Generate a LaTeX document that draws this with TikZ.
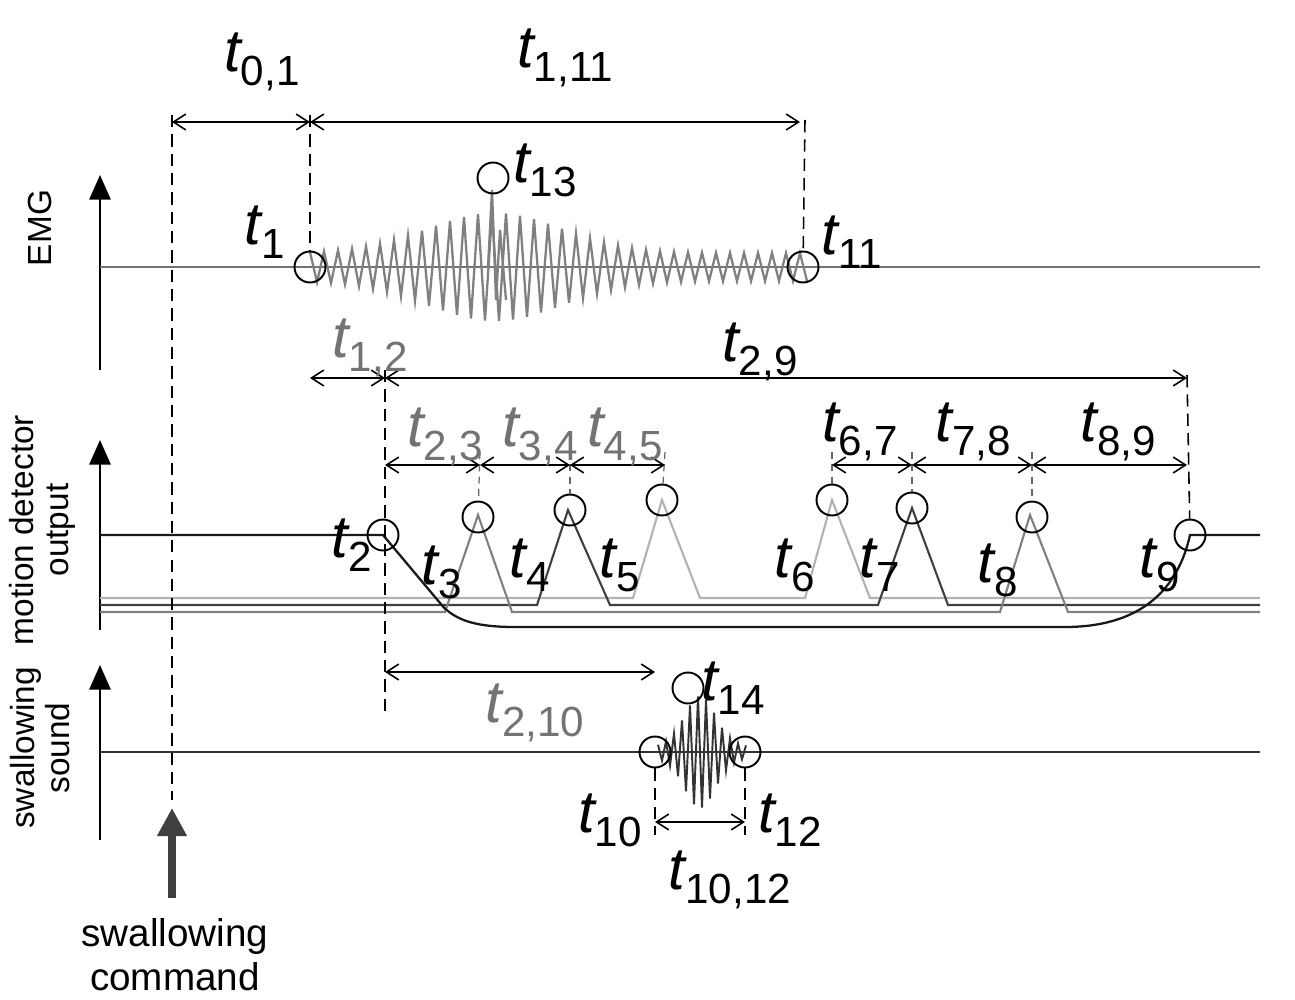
\documentclass[tikz,border=0pt]{standalone}
\usepackage{fontspec}
\setmainfont{Liberation Sans}
\usetikzlibrary{arrows.meta}
\newcommand{\tlab}[1]{{\fontsize{34}{34}\selectfont\itshape t}{\fontsize{24}{24}\selectfont\raisebox{-8pt}{#1}}}
\begin{document}
\begin{tikzpicture}[x=0.02cm,y=-0.02cm,
  dim/.style={{Straight Barb[length=7pt,width=9pt]}-{Straight Barb[length=7pt,width=9pt]},line width=0.9pt},
  dsh/.style={dashed,line width=0.9pt,dash pattern=on 7pt off 4pt},
  mk/.style={circle,draw,line width=1.1pt,minimum size=0.62cm,inner sep=0pt},
  ax/.style={-{Triangle[length=14pt,width=12pt]},line width=1.5pt},
  lab/.style={inner sep=0pt},
  side/.style={font=\fontsize{19}{20}\selectfont,align=center,rotate=90,inner sep=0pt}]
\useasboundingbox (0,0) rectangle (1295,1000);
\fill[white] (0,0) rectangle (1295,1000);
% axes
\draw[ax] (100,370) -- (100,175);
\draw[ax] (100,630) -- (100,440);
\draw[ax] (100,840) -- (100,665);
\node[side] (emg) at (40,228) {EMG};
\node[side] (mdo) at (42,530) {motion detector\\output};
\node[side] (ss) at (40,748) {swallowing\\sound};
% swallowing command
\coordinate (cmdb) at (172,898);
\coordinate (cmdt) at (172,808);
\draw[-{Triangle[length=16pt,width=16pt]},line width=5pt,black!75] (cmdb) -- (cmdt);
\node[font=\fontsize{22}{25}\selectfont,align=center] (cmd) at (175,955) {swallowing\\command};
% EMG
\draw[black!55,line width=1.2pt] (100,267) -- (1260,267);
\draw[black!50,line width=1.3pt] plot[domain=310:807,samples=72] (\x,{267-(14+40*exp(-((\x-495)/95)^2))*cos(mod(\x-310,14)/14*360)});
\draw[black!50,line width=1.3pt] (488,267) -- (492,190) -- (496,300) -- (500,230) -- (506,300);
% motion detector
\draw[black!30,line width=1.2pt] (100,598) -- (633,598) -- (662,500) -- (700,598) -- (805,598) -- (832,500) -- (870,598) -- (1260,598);
\draw[black!75,line width=1.2pt] (100,605) -- (537,605) -- (568,510) -- (610,605) -- (878,605) -- (912,508) -- (948,605) -- (1260,605);
\draw[black!50,line width=1.2pt] (100,612) -- (445,612) -- (478,515) -- (512,612) -- (1000,612) -- (1030,515) -- (1068,612) -- (1260,612);
\draw[black!90,line width=1.3pt] (100,535) -- (383,535) -- (440,603) .. controls (455,622) and (480,627) .. (515,627) -- (1065,627) .. controls (1150,627) and (1180,580) .. (1190,535) -- (1260,535);
% sound
\draw[black!80,line width=1.2pt] (100,752) -- (1260,752);
\draw[black!80,line width=1.1pt] plot[domain=658:746,samples=23] (\x,{752-(6+50*exp(-((\x-700)/22)^2))*cos(mod(\x-658,8)/8*360)});
% markers
\node[mk] (m1) at (310,267) {};
\node[mk] (m11) at (803,267) {};
\node[mk] (m13) at (493,178) {};
\node[mk] (m2) at (383,535) {};
\node[mk] (m3) at (478,517) {};
\node[mk] (m4) at (570,510) {};
\node[mk] (m5) at (662,500) {};
\node[mk] (m6) at (832,500) {};
\node[mk] (m7) at (912,508) {};
\node[mk] (m8) at (1032,517) {};
\node[mk] (m9) at (1190,535) {};
\node[mk] (m10) at (655,752) {};
\node[mk] (m12) at (745,752) {};
\node[mk] (m14) at (688,688) {};
% dashed verticals
\coordinate (v0t) at (172,115); \coordinate (v0b) at (172,800);
\coordinate (v1t) at (310,115);
\coordinate (v11t) at (805,120);
\coordinate (v2t) at (385,370); \coordinate (v2b) at (385,715);
\coordinate (v9t) at (1187,375);
\coordinate (v10b) at (655,835); \coordinate (v12b) at (745,835);
\draw[dsh] (v0t) -- (v0b);
\draw[dsh] (v1t) -- (m1);
\draw[dsh] (v11t) -- (m11);
\draw[dsh] (v2t) -- (v2b);
\draw[dsh] (v9t) -- (m9);
\draw[dsh] (m10) -- (v10b);
\draw[dsh] (m12) -- (v12b);
\foreach \p/\xx in {m3/480,m4/570,m5/665,m6/832,m7/912,m8/1032}
  \draw[black!60,line width=0.7pt,dash pattern=on 4pt off 3pt] (\xx,452) -- (\p);
% dimension arrows
\coordinate (a0) at (172,122); \coordinate (a1) at (310,122); \coordinate (a11) at (800,122);
\draw[dim] (a0) -- (a1);
\draw[dim] (a1) -- (a11);
\coordinate (b1) at (310,378); \coordinate (b2) at (385,378); \coordinate (b9) at (1187,378);
\draw[dim] (b1) -- (b2);
\draw[dim] (b2) -- (b9);
\coordinate (c2) at (385,465); \coordinate (c3) at (480,465); \coordinate (c4) at (570,465); \coordinate (c5) at (665,465);
\coordinate (c6) at (832,465); \coordinate (c7) at (912,465); \coordinate (c8) at (1032,465); \coordinate (c9) at (1187,465);
\draw[dim] (c2) -- (c3); \draw[dim] (c3) -- (c4); \draw[dim] (c4) -- (c5);
\draw[dim] (c6) -- (c7); \draw[dim] (c7) -- (c8); \draw[dim] (c8) -- (c9);
\coordinate (d2) at (385,672); \coordinate (d10) at (655,672);
\draw[dim] (d2) -- (d10);
\coordinate (e10) at (655,822); \coordinate (e12) at (745,822);
\draw[dim] (e10) -- (e12);
% labels
\node[lab] (l01) at (262,62) {\tlab{0,1}};
\node[lab] (l111) at (565,58) {\tlab{1,11}};
\node[lab] (l1) at (265,232) {\tlab{1}};
\node[lab] (l11) at (852,242) {\tlab{11}};
\node[lab] (l13) at (545,170) {\tlab{13}};
\node[lab,black!55] (l12) at (370,348) {\tlab{1,2}};
\node[lab] (l29) at (760,352) {\tlab{2,9}};
\node[lab,black!55] (l23) at (445,437) {\tlab{2,3}};
\node[lab,black!55] (l34) at (540,437) {\tlab{3,4}};
\node[lab,black!55] (l45) at (625,437) {\tlab{4,5}};
\node[lab] (l67) at (860,432) {\tlab{6,7}};
\node[lab] (l78) at (973,432) {\tlab{7,8}};
\node[lab] (l89) at (1118,432) {\tlab{8,9}};
\node[lab] (l2) at (352,545) {\tlab{2}};
\node[lab] (l3) at (442,572) {\tlab{3}};
\node[lab] (l4) at (530,565) {\tlab{4}};
\node[lab] (l5) at (620,565) {\tlab{5}};
\node[lab] (l6) at (795,565) {\tlab{6}};
\node[lab] (l7) at (880,565) {\tlab{7}};
\node[lab] (l8) at (998,570) {\tlab{8}};
\node[lab] (l9) at (1160,565) {\tlab{9}};
\node[lab,black!55] (l210) at (535,713) {\tlab{2,10}};
\node[lab] (l10) at (610,820) {\tlab{10}};
\node[lab] (l1012) at (730,880) {\tlab{10,12}};
\node[lab] (l12b) at (790,820) {\tlab{12}};
\node[lab] (l14) at (733,688) {\tlab{14}};
\end{tikzpicture}
\end{document}
